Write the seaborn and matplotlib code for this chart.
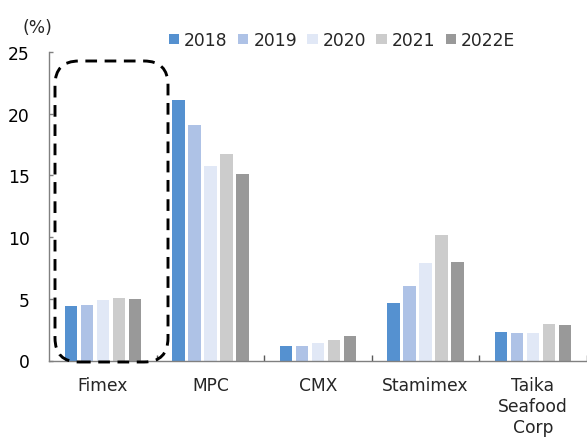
import matplotlib
matplotlib.use("Agg")
import matplotlib.pyplot as plt
from matplotlib.patches import FancyBboxPatch, Patch
import seaborn as sns
import pandas as pd

companies = ["Fimex", "MPC", "CMX", "Stamimex", "Taika\nSeafood\nCorp"]
years = ["2018", "2019", "2020", "2021", "2022E"]
v2018 = [4.4, 21.1, 1.2, 4.7, 2.3]
v2019 = [4.5, 19.1, 1.15, 6.05, 2.25]
v2020 = [4.9, 15.8, 1.4, 7.9, 2.2]
v2021 = [5.05, 16.7, 1.65, 10.15, 2.95]
v2022 = [5.0, 15.1, 2.0, 8.0, 2.85]
colors = ["#5591D0", "#AEC2E6", "#E1E8F6", "#CCCCCC", "#999999"]
yticks = [0, 5, 10, 15, 20, 25]

series = [v2018, v2019, v2020, v2021, v2022]
rows = []
for yr, vals in zip(years, series):
    for c, v in zip(companies, vals):
        rows.append({"company": c, "year": yr, "value": v})
df = pd.DataFrame(rows)

sns.set_style("white")
plt.rcParams["font.family"] = ["DejaVu Sans"]
FS = 12.3

fig = plt.figure(figsize=(5.87, 4.39), dpi=100)
ax = fig.add_axes([49.3 / 587, 1 - 361.5 / 439, (586.7 - 49.3) / 587, (361.5 - 53) / 439])

sns.barplot(data=df, x="company", y="value", hue="year", order=companies,
            hue_order=years, palette=colors, saturation=1, width=0.745, gap=0.2,
            linewidth=0, edgecolor="none", legend=False, ax=ax)

ax.set_xlim(-0.5, 4.5)
ax.set_ylim(0, 25)
ax.set_yticks(yticks)
ax.set_xlabel("")
ax.set_ylabel("")
for s in ["top", "right"]:
    ax.spines[s].set_visible(False)
for s in ["left", "bottom"]:
    ax.spines[s].set_color("#808080")
    ax.spines[s].set_linewidth(1.0)

ax.tick_params(axis="y", direction="in", length=3, width=1, color="#808080",
               pad=14, labelsize=FS, labelcolor="black", left=True)
ax.tick_params(axis="x", which="major", length=0, pad=11, labelsize=FS)
for lab in ax.get_xticklabels():
    lab.set_linespacing(1.22)
ax.set_xticks([0.5, 1.5, 2.5, 3.5, 4.5], minor=True)
ax.tick_params(axis="x", which="minor", direction="in", length=4.5, width=1,
               color="#595959", bottom=True)

fig.text(37.5 / 587, 1 - 28 / 439, "(%)", ha="center", va="center", fontsize=FS)

handles = [Patch(facecolor=c, edgecolor="none", label=y) for c, y in zip(colors, years)]
fig.legend(handles=handles, loc="center", bbox_to_anchor=(342 / 587, 1 - 41 / 439),
           ncol=5, frameon=False, handlelength=0.6, handleheight=0.6,
           handletextpad=0.3, columnspacing=0.6, borderaxespad=0, fontsize=FS)

box = FancyBboxPatch((0.55, 0.76), 1.13, 3.01,
                     boxstyle="round,pad=0,rounding_size=0.24",
                     transform=fig.dpi_scale_trans, facecolor="none",
                     edgecolor="black", linewidth=2.1, linestyle=(0, (4, 2.6)),
                     clip_on=False)
fig.patches.append(box)

fig.savefig("out.png", dpi=100)
